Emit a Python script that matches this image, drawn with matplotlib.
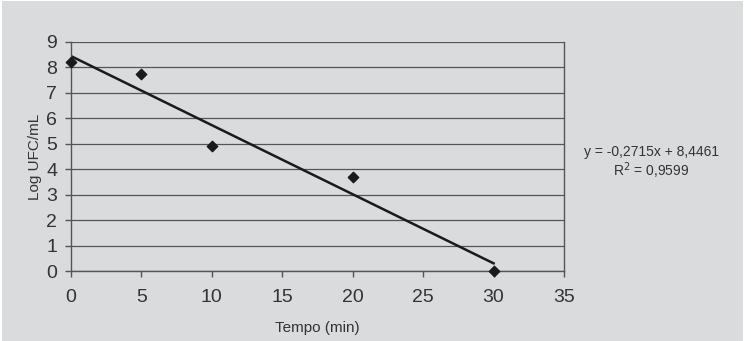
import matplotlib.pyplot as plt
import matplotlib.patches as mpatches
import numpy as np

plt.rcParams['font.family'] = ['Liberation Sans', 'DejaVu Sans']

tempo = [0, 5, 10, 20, 30]
log_ufc = [8.2, 7.75, 4.9, 3.7, 0.0]
slope = -0.2715
intercept = 8.4461
r2 = 0.9599

bg = '#dadbdd'
ink = '#333333'

fig = plt.figure(figsize=(7.51, 3.41), dpi=100, facecolor='white')
fig.patches.append(mpatches.Rectangle((2 / 751, 0), 741 / 751, 340 / 341,
                                      transform=fig.transFigure, facecolor=bg,
                                      edgecolor='none', zorder=-10))

ax = fig.add_axes([71 / 751, 70 / 341, 493 / 751, 229 / 341])
ax.set_facecolor(bg)

ax.scatter(tempo, log_ufc, marker='D', s=28, color='#1a1a1a', zorder=3,
           clip_on=False)
xfit = np.array([tempo[0], tempo[-1]])
ax.plot(xfit, slope * xfit + intercept, color='#1a1a1a', lw=1.8, zorder=2)

ax.set_xlim(0, 35)
ax.set_ylim(0, 9)
ax.set_xticks(range(0, 36, 5))
ax.set_yticks(range(0, 10))
ax.yaxis.grid(True, color='#555555', lw=0.9)
ax.set_axisbelow(True)
for side in ['left', 'bottom', 'right']:
    ax.spines[side].set_color('#555555')
    ax.spines[side].set_linewidth(1.0)
ax.spines['top'].set_visible(False)
ax.tick_params(axis='both', colors='#555555', length=4, width=1.0,
               labelsize=14, labelcolor=ink, pad=6)
ax.tick_params(axis='x', pad=9)

ax.set_xlabel('Tempo (min)', fontsize=11, color=ink, labelpad=11)
ax.set_ylabel('Log UFC/mL', fontsize=11, color=ink, labelpad=3)

fig.text(651 / 751, 1 - 152 / 341,
         'y = %s' % ('%.4fx + %.4f' % (slope, intercept)).replace('.', ','),
         ha='center', va='center', fontsize=10, color=ink)
fig.text(651 / 751, 1 - 171 / 341, 'R$^2$ = %s' % ('%.4f' % r2).replace('.', ','),
         ha='center', va='center', fontsize=10, color=ink)

fig.savefig('out.png', dpi=100, facecolor=fig.get_facecolor())
